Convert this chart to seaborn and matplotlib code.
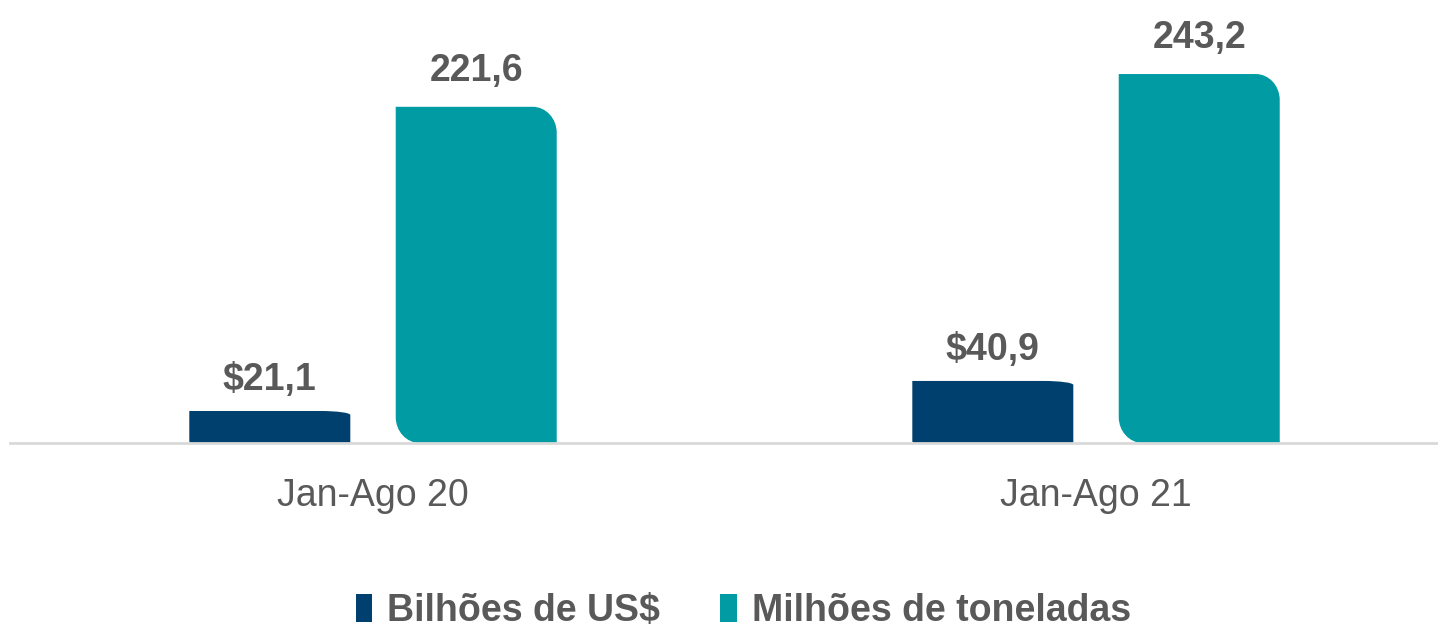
import matplotlib
matplotlib.use('Agg')
import matplotlib.pyplot as plt
import pandas as pd
import seaborn as sns
from matplotlib.path import Path
from matplotlib.patches import PathPatch, Patch

# data
periods = ['Jan-Ago 20', 'Jan-Ago 21']
series = ['Bilhões de US$', 'Milhões de toneladas']
bilhoes_usd = [21.1, 40.9]
milhoes_ton = [221.6, 243.2]
colors = ['#00406E', '#009BA3']
text_grey = '#595959'

df = pd.DataFrame({
    'periodo': periods * 2,
    'serie': [series[0]] * 2 + [series[1]] * 2,
    'valor': bilhoes_usd + milhoes_ton,
})

sns.set_style('white')
plt.rcParams['font.family'] = ['Liberation Sans', 'DejaVu Sans']

fig = plt.figure(figsize=(14.38, 6.36), dpi=100)
ax = fig.add_axes([0.007, 1 - 443 / 636, 0.993, 443 / 636])

sns.barplot(data=df, x='periodo', y='valor', hue='serie', palette=colors,
            width=0.571, gap=0.22, ax=ax, legend=False, saturation=1)

ax.set_xlim(-0.502, 1.473)
ax.set_ylim(0, 292)

# value labels
for i, cont in enumerate(ax.containers):
    if i == 0:
        labs = ['$' + f'{v:.1f}'.replace('.', ',') for v in bilhoes_usd]
        pad = 9
    else:
        labs = [f'{v:.1f}'.replace('.', ',') for v in milhoes_ton]
        pad = 13
    ax.bar_label(cont, labels=labs, padding=pad, fontsize=27,
                 fontweight='bold', color=text_grey)

# rounded corners (in pixels) like the original
fig.canvas.draw()
px_x = ax.transData.transform((1, 0))[0] - ax.transData.transform((0, 0))[0]
px_y = ax.transData.transform((0, 1))[1] - ax.transData.transform((0, 0))[1]
K = 0.5523


def rounded_path(x0, y0, w, h, tr, bl):
    x1, y1 = x0 + w, y0 + h
    trx, try_ = tr[0] / px_x, tr[1] / px_y
    blx, bly = bl[0] / px_x, bl[1] / px_y
    verts = [(x0 + blx, y0), (x1, y0), (x1, y1 - try_),
             (x1, y1 - try_ + K * try_), (x1 - trx + K * trx, y1), (x1 - trx, y1),
             (x0, y1), (x0, y0 + bly),
             (x0, y0 + bly - K * bly), (x0 + blx - K * blx, y0), (x0 + blx, y0),
             (x0 + blx, y0)]
    codes = [Path.MOVETO, Path.LINETO, Path.LINETO,
             Path.CURVE4, Path.CURVE4, Path.CURVE4,
             Path.LINETO, Path.LINETO,
             Path.CURVE4, Path.CURVE4, Path.CURVE4,
             Path.CLOSEPOLY]
    return Path(verts, codes)


for i, cont in enumerate(ax.containers):
    for bar in cont:
        x, y = bar.get_x(), bar.get_y()
        w, h = bar.get_width(), bar.get_height()
        if i == 0:
            tr, bl = (30, 4), (2, 2)
        else:
            tr, bl = (24, 26), (24, 26)
        pp = PathPatch(rounded_path(x, y, w, h, tr, bl),
                       facecolor=bar.get_facecolor(), edgecolor='none', zorder=2)
        bar.set_visible(False)
        ax.add_patch(pp)

sns.despine(ax=ax, left=True, top=True, right=True)
ax.spines['bottom'].set_color('#D9D9D9')
ax.spines['bottom'].set_linewidth(2)
ax.set_yticks([])
ax.set_xlabel('')
ax.set_ylabel('')
ax.tick_params(axis='x', length=0, labelsize=27, labelcolor=text_grey, pad=25)

handles = [Patch(facecolor=c, edgecolor='none') for c in colors]
leg = fig.legend(handles, series, loc='lower center', bbox_to_anchor=(0.517, -0.042),
                 ncol=2, frameon=False, handlelength=0.45, handleheight=0.75,
                 handletextpad=0.4, columnspacing=1.6,
                 prop={'size': 27, 'weight': 'bold'})
for t in leg.get_texts():
    t.set_color(text_grey)

fig.savefig('out.png', dpi=100)
